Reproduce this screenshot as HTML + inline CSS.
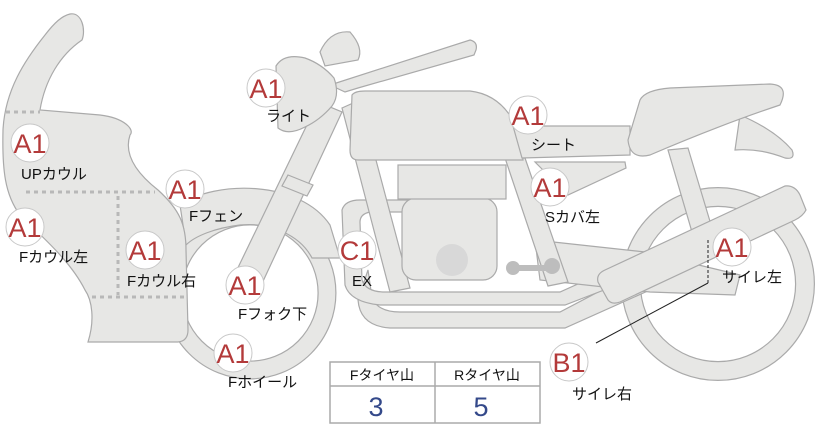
<!DOCTYPE html>
<html><head><meta charset="utf-8"><style>
html,body{margin:0;padding:0;background:#fff;}
svg{display:block;}
text{font-family:"Liberation Sans","Noto Sans CJK JP",sans-serif;}
.s{fill:#e7e7e5;stroke:#aaaaaa;stroke-width:1.2;}
.b{fill:#fff;stroke:#c8c8c8;stroke-width:1;}
.a{fill:#b33a3a;font-size:27px;text-anchor:middle;}
.l{fill:#111;font-size:15px;}
</style></head><body>
<svg width="822" height="425" viewBox="0 0 822 425">
<!-- rear wheel -->
<circle cx="718" cy="284" r="87" fill="none" stroke="#aaa" stroke-width="20"/>
<circle cx="718" cy="284" r="87" fill="none" stroke="#e7e7e5" stroke-width="17.6"/>
<!-- front wheel -->
<circle cx="250" cy="293" r="77" fill="none" stroke="#aaa" stroke-width="19"/>
<circle cx="250" cy="293" r="77" fill="none" stroke="#e7e7e5" stroke-width="16.6"/>
<!-- fender -->
<path class="s" d="M180,205 C215,180 300,180 330,225 L340,258 L312,258 C300,235 270,222 240,225 C215,228 195,236 186,245 Z"/>
<!-- rear shock -->
<path class="s" d="M668,150 L688,148 L712,228 L692,232 Z"/>
<!-- lower exhaust pipe -->
<path class="s" d="M368,270 L372,298 Q378,312 400,312 L560,312 L640,270 L650,290 L565,328 L390,328 Q360,326 358,300 Z"/>
<!-- upper frame loop -->
<path class="s" d="M342,210 Q345,200 360,200 L420,200 L420,212 L370,212 Q360,214 360,222 L362,280 Q366,292 385,292 L560,292 L620,265 L630,280 L565,305 L380,305 Q350,302 345,285 Z"/>
<!-- swingarm -->
<path class="s" d="M535,240 L645,252 L740,275 L735,295 L650,292 L540,280 Z"/>
<!-- frame tubes -->
<path class="s" d="M342,108 L360,100 L410,288 L390,292 Z"/>
<path class="s" d="M505,158 L525,158 L568,282 L548,286 Z"/>
<!-- engine -->
<rect class="s" x="402" y="198" width="95" height="82" rx="14"/>
<rect class="s" x="398" y="165" width="108" height="34"/>
<circle cx="452" cy="260" r="16" fill="#d8d8d8"/>
<!-- pedal -->
<line x1="513" y1="268" x2="552" y2="268" stroke="#bdbdbd" stroke-width="6"/>
<circle cx="513" cy="268" r="7" fill="#bdbdbd"/><circle cx="552" cy="266" r="8" fill="#bdbdbd"/>
<!-- tank -->
<path class="s" d="M352,95 Q355,91 365,91 L470,91 Q505,95 520,135 L523,160 L358,160 Q350,160 350,150 Z"/>
<!-- seat front panel -->
<path class="s" d="M513,126 L630,126 L630,155 L522,158 Z"/>
<!-- side cover -->
<path class="s" d="M535,162 L625,162 L626,168 L568,195 Z"/>
<!-- tail fin -->
<path class="s" d="M740,115 Q775,130 792,150 Q796,160 785,158 Q760,148 735,150 Z"/>
<!-- rear seat -->
<path class="s" d="M640,100 Q645,90 670,88 L770,84 Q790,85 780,105 Q720,125 650,155 Q630,160 628,140 Z"/>
<!-- muffler -->
<path class="s" d="M605,270 L785,186 Q795,185 800,195 L806,210 Q803,216 795,220 L620,302 Q612,305 608,300 L598,282 Q596,274 605,270 Z"/>
<!-- fork -->
<path class="s" d="M232,280 L318,102 L342,112 L258,292 Q250,300 240,296 Z"/>
<path class="s" d="M288,175 L313,185 L307,196 L282,186 Z"/>
<!-- handlebar -->
<path class="s" d="M330,85 L470,40 Q478,42 476,50 L474,55 L358,88 L345,92 Z"/>
<path class="s" d="M320,52 Q330,30 350,32 Q364,48 358,60 L325,66 Z"/>
<!-- headlight -->
<path class="s" d="M276,66 Q284,53 305,58 Q322,64 334,78 Q340,95 332,106 Q320,120 305,127 Q288,136 278,128 Z"/>
<!-- cowl -->
<path class="s" d="M70,14 C82,12 86,30 82,40 C60,55 45,80 40,110 L100,115 C125,118 135,130 130,135 C125,150 130,168 158,190 C180,210 186,225 186,250 L188,330 Q188,341 178,342 L88,342 C95,320 92,300 85,290 C70,260 40,235 20,215 C5,195 2,170 3,130 C5,90 25,60 45,35 C55,22 62,16 70,14 Z"/>
<g stroke="#b8b8b8" stroke-width="3" stroke-dasharray="4,4" fill="none">
<line x1="6" y1="112" x2="40" y2="112"/>
<line x1="26" y1="192" x2="155" y2="192"/>
<line x1="118" y1="196" x2="118" y2="295"/>
<line x1="92" y1="297" x2="186" y2="297"/>
</g>
<!-- pointer lines -->
<line x1="708" y1="240" x2="708" y2="283" stroke="#222" stroke-width="1" stroke-dasharray="3,2"/>
<line x1="708" y1="283" x2="596" y2="343" stroke="#222" stroke-width="1"/>
<!-- badges -->
<g>
<circle class="b" cx="266" cy="88" r="19"/><text class="a" x="266" y="98">A1</text>
<circle class="b" cx="30" cy="143" r="19"/><text class="a" x="30" y="153">A1</text>
<circle class="b" cx="25" cy="227" r="19"/><text class="a" x="25" y="237">A1</text>
<circle class="b" cx="145" cy="250" r="19"/><text class="a" x="145" y="260">A1</text>
<circle class="b" cx="185" cy="189" r="19"/><text class="a" x="185" y="199">A1</text>
<circle class="b" cx="245" cy="285" r="19"/><text class="a" x="245" y="295">A1</text>
<circle class="b" cx="233" cy="353" r="19"/><text class="a" x="233" y="363">A1</text>
<circle class="b" cx="357" cy="250" r="19"/><text class="a" x="357" y="260">C1</text>
<circle class="b" cx="528" cy="115" r="19"/><text class="a" x="528" y="125">A1</text>
<circle class="b" cx="550" cy="187" r="19"/><text class="a" x="550" y="197">A1</text>
<circle class="b" cx="732" cy="247" r="19"/><text class="a" x="732" y="257">A1</text>
<circle class="b" cx="569" cy="362" r="19"/><text class="a" x="569" y="372">B1</text>
</g>
<g>
<text class="l" x="266" y="121">ライト</text>
<text class="l" x="21" y="179">UPカウル</text>
<text class="l" x="19" y="262">Fカウル左</text>
<text class="l" x="127" y="286">Fカウル右</text>
<text class="l" x="189" y="221">Fフェン</text>
<text class="l" x="238" y="319">Fフォク下</text>
<text class="l" x="228" y="387">Fホイール</text>
<text class="l" x="352" y="286">EX</text>
<text class="l" x="531" y="150">シート</text>
<text class="l" x="545" y="222">Sカバ左</text>
<text class="l" x="722" y="282">サイレ左</text>
<text class="l" x="572" y="399">サイレ右</text>
</g>
<!-- table -->
<rect x="330" y="362" width="210" height="61" fill="#fff" stroke="#aaa" stroke-width="1.5"/>
<line x1="330" y1="386" x2="540" y2="386" stroke="#aaa" stroke-width="1.5"/>
<line x1="435" y1="362" x2="435" y2="423" stroke="#aaa" stroke-width="1.5"/>
<text x="382" y="380" text-anchor="middle" style="font-size:14px;fill:#111">Fタイヤ山</text>
<text x="487" y="380" text-anchor="middle" style="font-size:14px;fill:#111">Rタイヤ山</text>
<text x="376" y="416" text-anchor="middle" style="font-size:27px;fill:#34498a">3</text>
<text x="481" y="416" text-anchor="middle" style="font-size:27px;fill:#34498a">5</text>
</svg>
</body></html>
